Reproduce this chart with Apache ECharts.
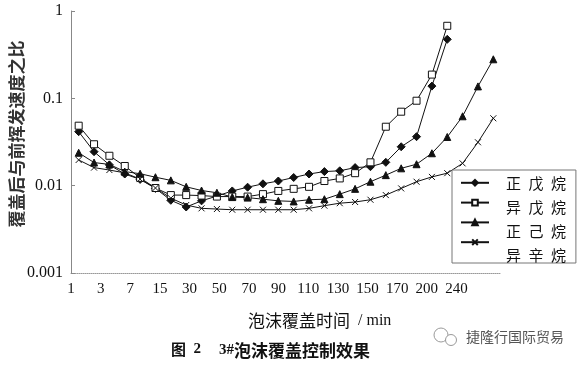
<!DOCTYPE html>
<html>
<head>
<meta charset="utf-8">
<script src="https://cdn.jsdelivr.net/npm/echarts@6/dist/echarts.min.js"></script>
<style>html,body{margin:0;padding:0;background:#fff;}#c{width:582px;height:365px;}</style>
</head>
<body>
<div id="c"></div>
<script>
const categories = ['1','3','5','7','10','15','20','30','40','50','60','70','80','90','100','110','120','130','140','150','160','170','180','190','200','210','220','240'];
const tickLabels = ['1','3','7','15','30','50','70','90','110','130','150','170','200','240'];
const seriesNames = ['正戊烷','异戊烷','正己烷','异辛烷'];
const nPentane = [0.0415,0.0245,0.0173,0.0136,0.0118,0.0093,0.0068,0.0057,0.0067,0.0076,0.0087,0.0096,0.0105,0.0113,0.0124,0.0136,0.0145,0.0148,0.0161,0.0165,0.0185,0.0279,0.0364,0.138,0.474];
const isoPentane = [0.0486,0.0298,0.0220,0.0168,0.0123,0.0094,0.0078,0.0078,0.0077,0.0075,0.0075,0.0075,0.0080,0.0087,0.0092,0.0097,0.0113,0.0121,0.0139,0.0185,0.0473,0.0703,0.0939,0.187,0.677];
const nHexane = [0.0238,0.0184,0.0175,0.0145,0.0137,0.0125,0.0115,0.0097,0.0088,0.0083,0.0074,0.0073,0.0070,0.0067,0.0066,0.0069,0.0070,0.0080,0.0092,0.0111,0.0132,0.0158,0.0176,0.0235,0.0361,0.0623,0.137,0.280];
const isoOctane = [0.0197,0.0161,0.0151,0.0140,0.0119,0.0094,0.0072,0.0060,0.0055,0.0054,0.0053,0.0053,0.0053,0.0053,0.0053,0.0055,0.0059,0.0063,0.0065,0.0069,0.0078,0.0093,0.0111,0.0126,0.0139,0.0180,0.0314,0.0591];

const CJK = '"Noto Sans CJK SC", sans-serif';
const SERIF = '"Liberation Serif", "DejaVu Serif", serif';
const X_SYMBOL = 'path://M0,0L10,10M10,0L0,10';

function mkSeries(name, data, symbol, size, fill) {
  return {
    name: name, type: 'line', data: data,
    xAxisIndex: 0, yAxisIndex: 0,
    symbol: symbol, symbolSize: size,
    lineStyle: { color: '#111', width: 1 },
    itemStyle: { color: fill, borderColor: '#111', borderWidth: 1 },
    emphasis: { disabled: true },
    animation: false
  };
}

const chart = echarts.init(document.getElementById('c'), null, { renderer: 'canvas' });
chart.setOption({
  animation: false,
  grid: { left: 71, right: 81, top: 11, bottom: 92, containLabel: false, outerBoundsMode: 'none' },
  xAxis: [
    {
      type: 'category', data: categories, boundaryGap: true,
      axisLine: { show: true, lineStyle: { color: '#999', type: 'dotted', width: 1 } },
      axisTick: { show: false }, axisLabel: { show: false }, splitLine: { show: false }
    },
    {
      type: 'value', min: 0, max: 14.5, interval: 1, position: 'bottom',
      axisLine: { show: false }, axisTick: { show: false }, splitLine: { show: false },
      axisLabel: {
        margin: 9, color: '#111', fontFamily: SERIF, fontSize: 15,
        formatter: function (v) { return Number.isInteger(v) ? (tickLabels[v] || '') : ''; }
      }
    }
  ],
  yAxis: {
    type: 'log', logBase: 10, min: 0.001, max: 1,
    axisLine: { show: true, lineStyle: { color: '#888', width: 1 } },
    axisTick: { show: true, inside: true, length: 4, lineStyle: { color: '#888' } },
    splitLine: { show: false }, minorTick: { show: false },
    axisLabel: {
      margin: 8, color: '#111', fontFamily: SERIF, fontSize: 16,
      formatter: function (v) { return String(Number(Number(v).toPrecision(1))); }
    },
    name: '覆盖后与前挥发速度之比', nameLocation: 'middle', nameRotate: 90, nameGap: 46,
    nameMoveOverlap: false,
    nameTextStyle: { fontFamily: CJK, fontSize: 17, fontWeight: 'bold', color: '#333', padding: [0, 0, 0, 16] }
  },
  legend: [
    {
      z: 5, orient: 'vertical', left: 460, top: 179, padding: 0,
      itemWidth: 28, itemHeight: 7, itemGap: 12.2, selectedMode: false,
      data: seriesNames,
      formatter: function () { return ''; },
      textStyle: { fontSize: 6, lineHeight: 6 }
    },
    {
      z: 4, orient: 'vertical', left: 452, top: 170, padding: [5, 10, 0, 41],
      itemWidth: 1, itemHeight: 16, itemGap: 8, selectedMode: false,
      backgroundColor: '#fff', borderColor: '#777', borderWidth: 1,
      itemStyle: { opacity: 0 }, lineStyle: { opacity: 0 },
      data: seriesNames,
      formatter: function (n) { return n.split('').join('\u2002'); },
      textStyle: { fontFamily: CJK, fontSize: 15, lineHeight: 16, color: '#111' }
    }
  ],
  series: [
    mkSeries(seriesNames[0], nPentane, 'diamond', 8, '#111'),
    mkSeries(seriesNames[1], isoPentane, 'rect', 7, '#fff'),
    mkSeries(seriesNames[2], nHexane, 'triangle', 7, '#111'),
    mkSeries(seriesNames[3], isoOctane, X_SYMBOL, 6, '#111')
  ],
  graphic: [
    { type: 'text', left: 248, top: 312, z: 10,
      style: { text: '{a|泡沫覆盖时间}{b|  / min}', rich: {
        a: { fontFamily: CJK, fontSize: 17, fill: '#111' },
        b: { fontFamily: SERIF, fontSize: 16, fill: '#111' } } } },
    { type: 'text', left: 171, top: 342, z: 10,
      style: { text: '{a|图}{b|  2}', rich: {
        a: { fontFamily: CJK, fontSize: 15, fontWeight: 'bold', fill: '#111' },
        b: { fontFamily: SERIF, fontSize: 15, fontWeight: 'bold', fill: '#111' } } } },
    { type: 'text', left: 219, top: 342, z: 10,
      style: { text: '{b|3#}{a|泡沫覆盖控制效果}', rich: {
        a: { fontFamily: CJK, fontSize: 17, fontWeight: 'bold', fill: '#111' },
        b: { fontFamily: SERIF, fontSize: 15, fontWeight: 'bold', fill: '#111' } } } },
    { type: 'circle', z: 10, shape: { cx: 441, cy: 335, r: 7 },
      style: { fill: '#fff', stroke: '#999', lineWidth: 1 } },
    { type: 'circle', z: 11, shape: { cx: 451, cy: 340, r: 5.5 },
      style: { fill: '#fff', stroke: '#999', lineWidth: 1 } },
    { type: 'text', left: 466, top: 330, z: 10,
      style: { text: '捷隆行国际贸易', fontFamily: CJK, fontSize: 14, fill: '#555' } }
  ]
});
</script>
</body>
</html>
